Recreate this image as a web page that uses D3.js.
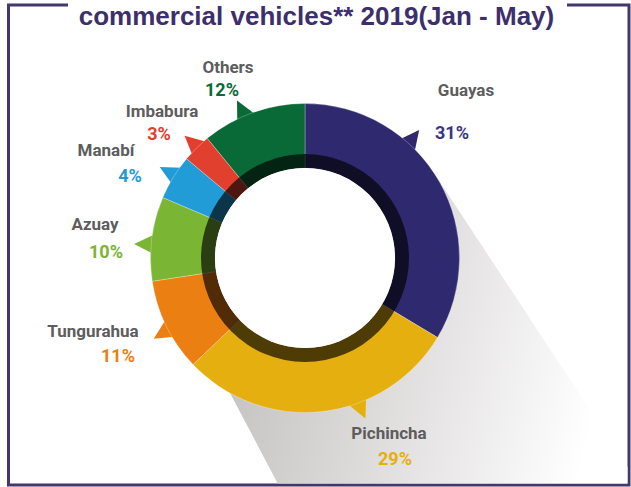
<!DOCTYPE html>
<html>
<head>
<meta charset="utf-8">
<script src="https://cdn.jsdelivr.net/npm/d3@7"></script>
<style>
  html, body { margin: 0; padding: 0; background: #fff; }
  svg { display: block; }
</style>
</head>
<body>
<svg id="chart" width="631" height="487"></svg>
<script>
// data
var provinces = ["Guayas", "Pichincha", "Tungurahua", "Azuay", "Manabí", "Imbabura", "Others"];
var percents = [31, 29, 11, 10, 4, 3, 12];
// share of the ring each slice takes in the picture
var arcShare = [33.6, 29.3, 9.7, 8.8, 4.7, 3.0, 10.9];
var colors = ["#2f2a6f", "#e4af0f", "#ec7f12", "#7ab533", "#219cd7", "#e2402e", "#0a6a37"];
var pctColors = ["#3b3584", "#e4af0f", "#ec7f12", "#7ab533", "#219cd7", "#e2402e", "#0a6a37"];

// label layout (name / percent positions) and where the little tail sits on each slice
var labelPos = [
    { nx: 466, ny: 96,  px: 452, py: 139 },
    { nx: 389, ny: 439, px: 395, py: 465 },
    { nx: 93,  ny: 337, px: 118, py: 362 },
    { nx: 95,  ny: 230, px: 106, py: 258 },
    { nx: 106, ny: 156, px: 130, py: 182 },
    { nx: 162, ny: 117, px: 159, py: 140 },
    { nx: 228, ny: 73,  px: 222, py: 96 }
];
var tailFrac = [0.35, 0.37, 0.46, 0.44, 0.57, 0.56, 0.42];

var svg = d3.select("#chart"),
    cx = 305,
    cy = 258,
    outerRadius = 154.5,
    ringRadius = 104,
    innerRadius = 90;

var defs = svg.append("defs");

var shadowGrad = defs.append("linearGradient")
    .attr("id", "shadowGrad")
    .attr("gradientUnits", "userSpaceOnUse")
    .attr("x1", 230).attr("y1", 380)
    .attr("x2", 600).attr("y2", 470);
shadowGrad.append("stop").attr("offset", 0).attr("stop-color", "#c6c3c3");
shadowGrad.append("stop").attr("offset", 0.35).attr("stop-color", "#dbd8d8");
shadowGrad.append("stop").attr("offset", 0.95).attr("stop-color", "#ffffff");

var ringGrad = defs.append("linearGradient")
    .attr("id", "ringGrad")
    .attr("gradientUnits", "userSpaceOnUse")
    .attr("x1", cx - 74).attr("y1", cy - 74)
    .attr("x2", cx + 74).attr("y2", cy + 74);
ringGrad.append("stop").attr("offset", 0).attr("stop-color", "#000").attr("stop-opacity", 0.66);
ringGrad.append("stop").attr("offset", 1).attr("stop-color", "#000").attr("stop-opacity", 0.18);

defs.append("clipPath").attr("id", "frameClip")
    .append("rect")
    .attr("x", 10).attr("y", 6.5)
    .attr("width", 617.5).attr("height", 477);

// frame with the gap for the title
svg.append("path")
    .attr("d", "M68,5 H8.5 V485 H629 V5 H567")
    .attr("fill", "none")
    .attr("stroke", "#45376e")
    .attr("stroke-width", 3);

svg.append("text")
    .attr("x", 316.5)
    .attr("y", 25)
    .attr("text-anchor", "middle")
    .style("font-family", "'Liberation Sans', Arial, sans-serif")
    .style("font-weight", "bold")
    .style("font-size", "26px")
    .attr("fill", "#3c2f6c")
    .text("commercial vehicles** 2019(Jan - May)");

// long shadow
var sdir = [0.55, 0.835], ldir = [0.466, 0.885];
var shadowPts = [
    [434, 173],
    [434 + sdir[0] * 600, 173 + sdir[1] * 600],
    [230 + ldir[0] * 300, 393 + ldir[1] * 300],
    [200, 336]
];
svg.append("path")
    .attr("clip-path", "url(#frameClip)")
    .attr("d", d3.line()(shadowPts) + "Z")
    .attr("fill", "url(#shadowGrad)");

var g = svg.append("g")
    .attr("transform", "translate(" + cx + "," + cy + ")");

var pie = d3.pie()
    .sort(null)
    .value(function(d) { return d; });

var arcs = pie(arcShare);

var arc = d3.arc()
    .innerRadius(innerRadius)
    .outerRadius(outerRadius);

// tails pointing out at the labels
function polar(angle, r) {
    return [Math.sin(angle) * r, -Math.cos(angle) * r];
}
var tailHalf = 3.6 * Math.PI / 180;

g.append("g")
    .selectAll("path")
    .data(arcs)
    .enter().append("path")
    .attr("d", function(d, i) {
        var a = d.startAngle + tailFrac[i] * (d.endAngle - d.startAngle);
        return d3.line()([
            polar(a - tailHalf, outerRadius - 2),
            polar(a - 0.6 * Math.PI / 180, outerRadius + 17),
            polar(a + tailHalf, outerRadius - 2)
        ]) + "Z";
    })
    .attr("fill", function(d, i) { return colors[i]; });

g.append("g")
    .selectAll("path")
    .data(arcs)
    .enter().append("path")
    .attr("d", arc)
    .attr("fill", function(d, i) { return colors[i]; })
    .attr("stroke", "rgba(255,255,255,0.45)")
    .attr("stroke-width", 0.6);

// darker inner ring
g.append("path")
    .attr("d", d3.arc().innerRadius(innerRadius).outerRadius(ringRadius)
        .startAngle(0).endAngle(2 * Math.PI)())
    .attr("fill", "url(#ringGrad)");

g.append("circle")
    .attr("r", innerRadius)
    .attr("fill", "#fff");

// labels
var labels = svg.append("g")
    .style("font-family", "Roboto, 'Liberation Sans', sans-serif")
    .style("font-weight", "bold")
    .attr("text-anchor", "middle");

labels.selectAll(".name")
    .data(provinces)
    .enter().append("text")
    .attr("class", "name")
    .attr("x", function(d, i) { return labelPos[i].nx; })
    .attr("y", function(d, i) { return labelPos[i].ny; })
    .style("font-size", "17px")
    .attr("fill", "#5d5d5d")
    .text(function(d) { return d; });

labels.selectAll(".pct")
    .data(percents)
    .enter().append("text")
    .attr("class", "pct")
    .attr("x", function(d, i) { return labelPos[i].px; })
    .attr("y", function(d, i) { return labelPos[i].py; })
    .style("font-size", "18px")
    .attr("fill", function(d, i) { return pctColors[i]; })
    .text(function(d) { return d + "%"; });
</script>
</body>
</html>
